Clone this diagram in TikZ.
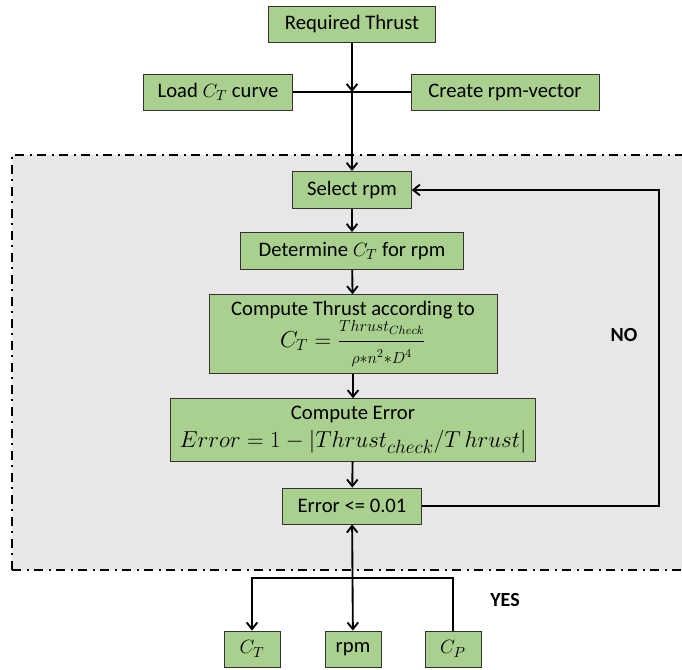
\documentclass[tikz,border=0pt]{standalone}
\usepackage{fontspec}
\setmainfont{Carlito}
\usepackage{amsmath}
\usepackage{tikz}
\usetikzlibrary{arrows.meta,positioning}
\definecolor{boxgreen}{HTML}{A9D08E}
\definecolor{loopgray}{HTML}{E8E6E8}
\newcommand{\thr}{Thrust}

\begin{document}
\begin{tikzpicture}[x=0.75pt, y=-0.75pt,
  blk/.style={draw=black!80, line width=0.6pt, fill=boxgreen, inner sep=2pt, align=center, font=\fontsize{15.5}{18}\selectfont},
  lbl/.style={font=\fontsize{15}{18}\selectfont\bfseries},
  flow/.style={-{Straight Barb[length=5pt,width=8pt]}, line width=1.4pt},
  link/.style={line width=1.4pt}]
\useasboundingbox (0,0) rectangle (682,670);
% loop region
\fill[loopgray] (12,155) rectangle (690,570);
\draw[line width=2pt, dash pattern=on 7pt off 4pt on 1.5pt off 4pt] (12,570) -- (12,155) -- (690,155);
\draw[line width=2pt, dash pattern=on 7pt off 4pt on 1.5pt off 4pt] (12,570) -- (690,570);
% inputs
\node[blk, minimum width=125pt, minimum height=27pt] (req) at (352,24) {Required Thrust};
\node[blk, minimum width=112pt, minimum height=27pt] (load) at (218,92) {Load $C_T$ curve};
\node[blk, minimum width=141pt, minimum height=27pt] (crv) at (505,92) {Create rpm-vector};
\coordinate (jn) at (352,92);
% loop
\node[blk, minimum width=89pt, minimum height=28pt] (sel) at (352,190) {Select rpm};
\node[blk, minimum width=167pt, minimum height=28pt] (det) at (352,251) {Determine $C_T$ for rpm};
\node[blk, minimum width=216pt, minimum height=59pt] (cth) at (353,334) {Compute Thrust according to\\[0pt]
  {\fontsize{18.5}{20}\selectfont$C_T=\dfrac{\scriptstyle\thr_{Check}}{\scriptstyle\rho*n^2*D^4}$}};
\node[blk, minimum width=274pt, minimum height=47pt] (cer) at (353,430) {Compute Error\\[3pt]
  {\fontsize{19}{21}\selectfont$Error=1-|\thr_{check}/T\,hrust|$}};
\node[blk, minimum width=104pt, minimum height=27pt] (chk) at (352,506) {Error <= 0.01};
\coordinate (ret) at (659,506);
% outputs
\node[blk, minimum width=42pt, minimum height=27pt] (ct) at (252,649) {$C_T$};
\node[blk, minimum width=42pt, minimum height=27pt] (rpm) at (353,649) {rpm};
\node[blk, minimum width=42pt, minimum height=27pt] (cp) at (453,649) {$C_P$};
\coordinate (brl) at (252,578);
\coordinate (brr) at (453,578);
\node[lbl] (no) at (624,335) {NO};
\node[lbl] (yes) at (505,600) {YES};
% connectors
\draw[flow] (req) -- (jn);
\draw[link] (load) -- (crv);
\draw[flow] (jn) -- (sel);
\draw[flow] (sel) -- (det);
\draw[flow] (det) -- (cth);
\draw[flow] (cth) -- (cer);
\draw[flow] (cer) -- (chk);
\draw[flow] (chk) -- (ret) |- (sel);
\draw[{Straight Barb[length=5pt,width=8pt]}-{Straight Barb[length=5pt,width=8pt]}, line width=1.4pt] (chk) -- (rpm);
\draw[flow] (cp) -- (brr) -- (brl) -- (ct);
\end{tikzpicture}
\end{document}
